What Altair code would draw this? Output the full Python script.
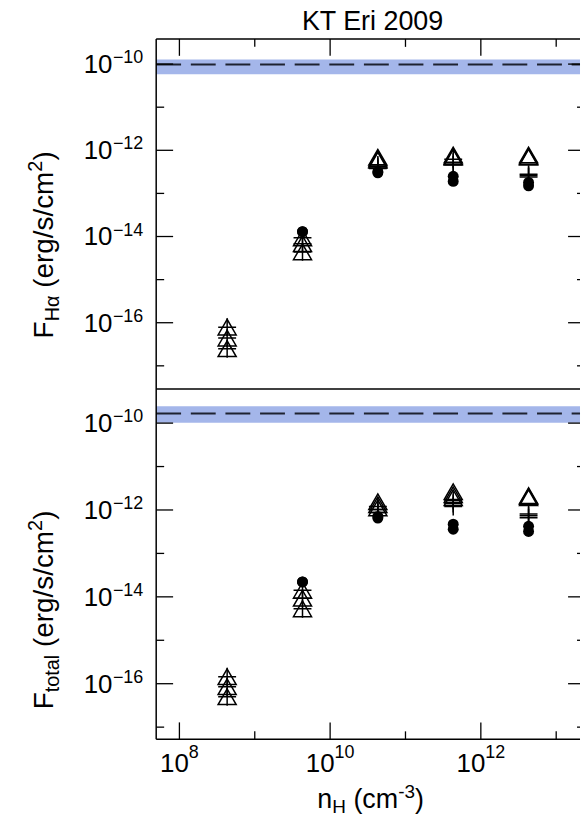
import altair as alt
import pandas as pd

# ---- data -------------------------------------------------------------
# hydrogen density of the model grid (cm^-3)
n_h = [4.3e8, 4.3e9, 4.3e10, 4.3e11, 4.3e12]

# H-alpha flux (erg/s/cm^2): three model sets drawn as triangles, three as crosses,
# and two as filled dots
ha_tri = [
    [7.9e-17, 9.3e-15, 6.9e-13, 7.8e-13, 7.8e-13],
    [4.4e-17, 6.8e-15, 6.3e-13, 7.2e-13, 7.2e-13],
    [2.5e-17, 4.4e-15, 5.9e-13, 6.9e-13, 6.9e-13],
]
ha_plus = [
    [7.9e-17, 9.3e-15, 4.6e-13, 6.2e-13, 2.8e-13],
    [4.4e-17, 6.8e-15, 4.2e-13, 5.3e-13, 2.6e-13],
    [2.5e-17, 4.4e-15, 3.8e-13, 4.6e-13, 2.4e-13],
]
ha_dot = [
    [None, 1.3e-14, 3.2e-13, 2.5e-13, 1.8e-13],
    [None, 1.3e-14, 3.0e-13, 1.9e-13, 1.5e-13],
]
ha_obs = 9.8e-11
ha_obs_range = [5.8e-11, 1.28e-10]

# total flux (erg/s/cm^2)
tot_tri = [
    [1.45e-16, 1.41e-14, 1.55e-12, 2.63e-12, 2.14e-12],
    [8.5e-17, 9.3e-15, 1.32e-12, 2.24e-12, 2.04e-12],
    [5.0e-17, 5.3e-15, 1.12e-12, 1.91e-12, 1.91e-12],
]
tot_plus = [
    [1.45e-16, 1.41e-14, 1.20e-12, 1.66e-12, 8.1e-13],
    [8.5e-17, 9.3e-15, 1.02e-12, 1.41e-12, 7.4e-13],
    [5.0e-17, 5.3e-15, 8.7e-13, 1.20e-12, 6.6e-13],
]
tot_dot = [
    [None, 2.2e-14, 7.1e-13, 4.7e-13, 4.2e-13],
    [None, 2.2e-14, 6.5e-13, 3.6e-13, 3.2e-13],
]
tot_obs = 1.66e-10
tot_obs_range = [1.02e-10, 2.45e-10]

# axis ticks
x_major = [1e8, 1e10, 1e12]
x_major_exp = ["8", "10", "12"]
x_minor = [1e9, 1e11, 1e13]
y_major = [1e-10, 1e-12, 1e-14, 1e-16]
y_major_exp = ["\u221210", "\u221212", "\u221214", "\u221216"]
y_minor = [1e-11, 1e-13, 1e-15, 1e-17]

# ---- styling / layout -------------------------------------------------
W = 426
H = 352
X_DOM = [10 ** 7.692, 10 ** 13.316]
TOP_DOM = [10 ** -17.54, 10 ** -9.416]
BOT_DOM = [10 ** -17.28, 10 ** -9.217]
FONT = "Liberation Sans"
BLUE = "#a4b6ea"
DARK = "#1e2230"
FS = 26
FS_SMALL = 18
FS_T = 28
FS_TS = 20
MAJ = 17
MIN = 8

# Liberation Sans advance widths (per 1000 em) used to lay out rich text pieces
ADV = {" ": 278, "(": 333, ")": 333, "e": 556, "r": 333, "g": 556, "/": 278,
       "s": 500, "c": 500, "m": 833, "F": 611, "H": 722, "\u03b1": 578,
       "t": 278, "o": 556, "a": 556, "l": 222, "n": 556, "-": 333,
       "\u2212": 584, "K": 667, "T": 611, "E": 667, "i": 222}


def text_w(s, fs):
    return sum(ADV.get(ch, 556) for ch in s) * fs / 1000.0


def pieces_w(pieces):
    return sum(text_w(t, fs) for t, fs, _ in pieces)


def rich(pieces, x0, y0, angle=0):
    """Lay out (text, size, baseline shift) pieces one after another."""
    out = []
    pos = 0.0
    for txt, fs, shift in pieces:
        lead = len(txt) - len(txt.lstrip(" "))
        pos += text_w(" " * lead, fs)
        txt = txt.lstrip(" ")
        if angle == 0:
            x, y = x0 + pos, y0 + shift
        else:
            x, y = x0 + shift, y0 - pos
        out.append(
            alt.Chart(pd.DataFrame({"t": [txt]}))
            .mark_text(align="left", baseline="alphabetic", font=FONT,
                       fontSize=fs, angle=angle, color="black")
            .encode(x=alt.value(x), y=alt.value(y), text="t:N")
        )
        pos += text_w(txt, fs)
    return out


def xenc(field):
    return alt.X(f"{field}:Q", scale=alt.Scale(type="log", domain=X_DOM, nice=False), axis=None)


def yenc(field, dom):
    return alt.Y(f"{field}:Q", scale=alt.Scale(type="log", domain=dom, nice=False), axis=None)


def long_table(series):
    rows = []
    for vals in series:
        for n, f in zip(n_h, vals):
            if f is not None:
                rows.append({"n": n, "f": f})
    return pd.DataFrame(rows)


def panel(tri, plus, dot, obs, obs_range, dom, title_pieces, title_mid, top_edge, bottom_edge):
    layers = []
    # observed flux band and value
    layers.append(
        alt.Chart(pd.DataFrame({"lo": [obs_range[0]], "hi": [obs_range[1]]}))
        .mark_rect(color=BLUE)
        .encode(y=yenc("lo", dom), y2="hi:Q", x=alt.value(0), x2=alt.value(W))
    )
    layers.append(
        alt.Chart(pd.DataFrame({"o": [obs]}))
        .mark_rule(color=DARK, strokeWidth=2, strokeDash=[25, 9.8])
        .encode(y=yenc("o", dom), x=alt.value(0), x2=alt.value(W))
    )
    # model points
    layers.append(
        alt.Chart(long_table(dot))
        .mark_point(shape="circle", filled=True, size=121, color="black", opacity=1)
        .encode(x=xenc("n"), y=yenc("f", dom))
    )
    layers.append(
        alt.Chart(long_table(plus))
        .mark_point(shape="M-1,0H1M0,-1V1", filled=False, size=324, color="black",
                    strokeWidth=1.5, opacity=1)
        .encode(x=xenc("n"), y=yenc("f", dom))
    )
    layers.append(
        alt.Chart(long_table(tri))
        .mark_point(shape="triangle-up", filled=False, size=330, color="black",
                    strokeWidth=1.5, opacity=1)
        .encode(x=xenc("n"), y=yenc("f", dom))
    )
    # inward y ticks (left and right)
    for vals, ln in ((y_major, MAJ), (y_minor, MIN)):
        d = pd.DataFrame({"v": vals})
        layers.append(alt.Chart(d).mark_rule(color="black", strokeWidth=1.3)
                      .encode(y=yenc("v", dom), x=alt.value(0), x2=alt.value(ln)))
        layers.append(alt.Chart(d).mark_rule(color="black", strokeWidth=1.3)
                      .encode(y=yenc("v", dom), x=alt.value(W + 5 - ln), x2=alt.value(W)))
    # inward x ticks
    for vals, ln in ((x_major, MAJ), (x_minor, MIN)):
        d = pd.DataFrame({"v": vals})
        if top_edge:
            layers.append(alt.Chart(d).mark_rule(color="black", strokeWidth=1.3)
                          .encode(x=xenc("v"), y=alt.value(0), y2=alt.value(ln)))
        if bottom_edge:
            layers.append(alt.Chart(d).mark_rule(color="black", strokeWidth=1.3)
                          .encode(x=xenc("v"), y=alt.value(H), y2=alt.value(H - ln)))
    # frame
    one = pd.DataFrame({"k": [0]})
    layers.append(alt.Chart(one).mark_rule(color="black", strokeWidth=1.5)
                  .encode(x=alt.value(0), y=alt.value(0), y2=alt.value(H)))
    layers.append(alt.Chart(one).mark_rule(color="black", strokeWidth=1.5)
                  .encode(x=alt.value(0), x2=alt.value(W), y=alt.value(H)))
    if top_edge:
        layers.append(alt.Chart(one).mark_rule(color="black", strokeWidth=1.5)
                      .encode(x=alt.value(0), x2=alt.value(W), y=alt.value(0)))
    # y tick labels: "10" with a raised exponent
    lab = pd.DataFrame({"v": y_major, "e": y_major_exp})
    layers.append(alt.Chart(lab)
                  .mark_text(align="right", baseline="alphabetic", font=FONT, fontSize=FS,
                             dy=9, color="black")
                  .encode(y=yenc("v", dom), x=alt.value(-44), text=alt.value("10")))
    layers.append(alt.Chart(lab)
                  .mark_text(align="left", baseline="alphabetic", font=FONT, fontSize=FS_SMALL,
                             dy=-1, color="black")
                  .encode(y=yenc("v", dom), x=alt.value(-43.5), text="e:N"))
    # y axis title, centred on title_mid
    layers += rich(title_pieces, -104, title_mid + pieces_w(title_pieces) / 2, angle=270)
    return layers


ha_title = [("F", FS_T, 0), ("H\u03b1", FS_TS, 6), (" (erg/s/cm", FS_T, 0),
            ("2", FS_TS, -11), (")", FS_T, 0)]
tot_title = [("F", FS_T, 0), ("total", FS_TS, 6), (" (erg/s/cm", FS_T, 0),
             ("2", FS_TS, -11), (")", FS_T, 0)]

top_layers = panel(ha_tri, ha_plus, ha_dot, ha_obs, ha_obs_range, TOP_DOM,
                   ha_title, 207, top_edge=True, bottom_edge=False)
# plot title and layout anchor above/left of the top panel
top_layers.append(
    alt.Chart(pd.DataFrame({"t": ["KT Eri 2009"]}))
    .mark_text(align="center", baseline="alphabetic", font=FONT, fontSize=27, color="black")
    .encode(x=alt.value(217.5), y=alt.value(-9.3), text="t:N")
)
top_layers.append(
    alt.Chart(pd.DataFrame({"k": [0]}))
    .mark_rect(opacity=0)
    .encode(x=alt.value(-156), x2=alt.value(-150), y=alt.value(-36), y2=alt.value(-30))
)

bot_layers = panel(tot_tri, tot_plus, tot_dot, tot_obs, tot_obs_range, BOT_DOM,
                   tot_title, 222, top_edge=False, bottom_edge=True)

# x tick labels (bottom panel), centred on their ticks
xl = pd.DataFrame({"v": x_major, "e": x_major_exp})
for elen in (1, 2):
    sub = xl[xl["e"].str.len() == elen]
    if sub.empty:
        continue
    total = text_w("10", FS) + text_w("0" * elen, FS_SMALL)
    off = -total / 2 + text_w("10", FS)
    bot_layers.append(alt.Chart(sub)
                      .mark_text(align="right", baseline="alphabetic", font=FONT, fontSize=FS,
                                 dx=off, color="black")
                      .encode(x=xenc("v"), y=alt.value(H + 32.7), text=alt.value("10")))
    bot_layers.append(alt.Chart(sub)
                      .mark_text(align="left", baseline="alphabetic", font=FONT,
                                 fontSize=FS_SMALL, dx=off, color="black")
                      .encode(x=xenc("v"), y=alt.value(H + 18.5), text="e:N"))

# x axis title
bot_layers += rich([("n", 27, 0), ("H", 19, 5), (" (cm", 27, 0),
                    ("-3", 19, -10), (")", 27, 0)], 162, H + 69)

top = alt.layer(*top_layers).properties(width=W, height=H)
bottom = alt.layer(*bot_layers).properties(width=W, height=H)

chart = (
    alt.vconcat(top, bottom, spacing=0, bounds="flush")
    .properties(padding=0)
    .configure_view(stroke="transparent")
)

chart.save("out.html", embed_options={"renderer": "svg", "actions": False})
